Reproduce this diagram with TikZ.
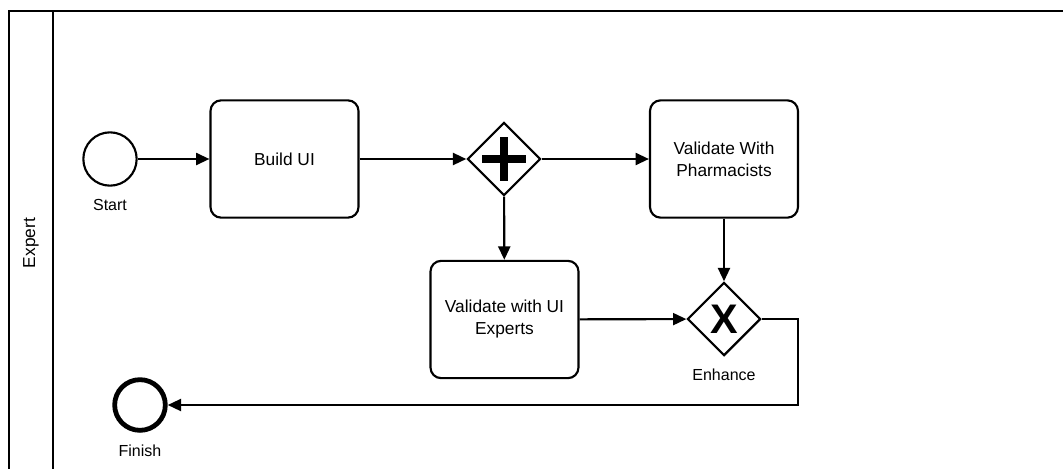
\documentclass[tikz,border=0pt]{standalone}
\usepackage{fontspec}
\setmainfont{Liberation Sans}
\usepackage{tikz}
\usetikzlibrary{calc, shapes.geometric, arrows.meta}
\usepackage{xcolor}
\definecolor{FlowBlack}{HTML}{000000}
\tikzset{
  flow/.style={draw=FlowBlack, line width=1.6pt, -{Triangle[length=10pt, width=9pt]}},
  task/.style={draw=FlowBlack, line width=1.6pt, rounded corners=8pt, minimum width=111pt, minimum height=88pt, align=center, font=\fontsize{13}{16.5}\selectfont},
  gateway/.style={draw=FlowBlack, diamond, line width=1.6pt, minimum width=55pt, minimum height=55pt, inner sep=0pt, fill=white},
  evt/.style={draw=FlowBlack, circle, line width=1.6pt, minimum size=40pt, inner sep=0pt},
  evtlabel/.style={font=\fontsize{12}{14}\selectfont}
}
\begin{document}
\begin{tikzpicture}[x=0.75pt, y=-0.75pt]
          \useasboundingbox (0,0) rectangle (1063,468);
          % pool and lane
          \draw[line width=1.6pt] (9,480) -- (9,11) -- (1080,11);
          \draw[line width=1.6pt] (53,11) -- (53,480);
          \node[rotate=90, font=\fontsize{13}{16}\selectfont] (lane) at (31,243) {Expert};
          % events, tasks and gateways
          \node[evt] (start) at (110,159) {};
          \node[evtlabel] (startlbl) at (110,205) {Start};
          \node[task] (build) at (284.5,159) {Build UI};
          \node[gateway] (fork) at (504,159) {};
          \draw[line width=6pt] ($(fork.center)+(-22,0)$) -- ($(fork.center)+(22,0)$);
          \draw[line width=6pt] ($(fork.center)+(0,-22)$) -- ($(fork.center)+(0,22)$);
          \node[task] (pharma) at (724,159) {Validate With\\Pharmacists};
          \node[task] (uiexp) at (504.5,319.5) {Validate with UI\\Experts};
          \node[gateway] (join) at (724,319) {};
          \node[font=\bfseries\fontsize{31}{31}\selectfont] (joinx) at (join.center) {X};
          \node[evtlabel] (joinlbl) at (724,375) {Enhance};
          \node[evt, line width=3.6pt, minimum size=38pt] (finish) at (140,405) {};
          \node[evtlabel] (finishlbl) at (140,451) {Finish};
          \coordinate (loop) at (798,405);
          % sequence flows
          \draw[flow] (start) -- (build);
          \draw[flow] (build) -- (fork);
          \draw[flow] (fork) -- (pharma);
          \draw[flow] (fork) -- (uiexp);
          \draw[flow] (uiexp) -- (join);
          \draw[flow] (pharma) -- (join);
          \draw[flow] (join.east) -| (loop) -- (finish);
        \end{tikzpicture}
\end{document}
